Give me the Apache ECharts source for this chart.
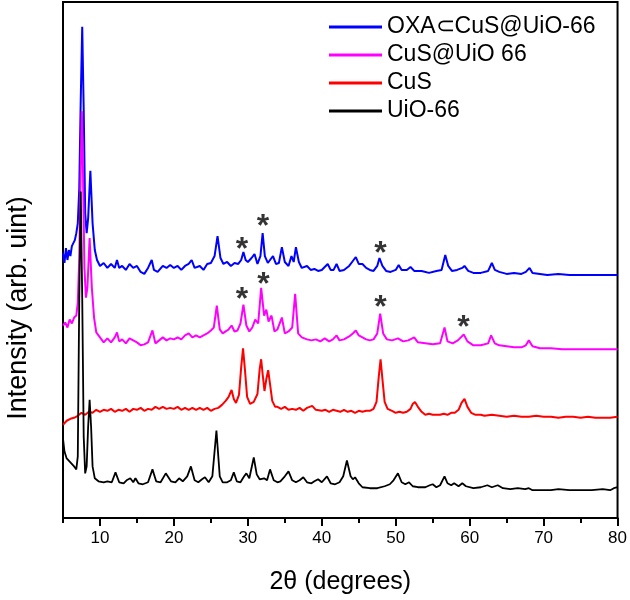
<!DOCTYPE html>
<html>
<head>
<meta charset="utf-8">
<script src="https://cdn.jsdelivr.net/npm/echarts@6/dist/echarts.min.js"></script>
<style>html,body{margin:0;padding:0;background:#fff;}#chart{width:630px;height:600px;}</style>
</head>
<body>
<div id="chart"></div>
<script>
// Series names (legend order)
const seriesNames = ['OXA\u2282CuS@UiO-66', 'CuS@UiO 66', 'CuS', 'UiO-66'];
// x tick labels
const xTickLabels = [10, 20, 30, 40, 50, 60, 70, 80];
const xTitle = '2\u03b8 (degrees)';
const yTitle = 'Intensity (arb. uint)';

// [2theta, intensity (arb., offset traces)]
const oxaCuSUiO = [
[5.0,267],[5.2,257],[5.4,272],[5.6,260],[5.8,270],[6.0,264],[6.2,274],[6.4,272],[6.6,280],[6.8,287],
[7.0,297],[7.2,332],[7.4,422],[7.6,495],[7.8,412],[8.0,307],[8.2,287],[8.4,302],[8.7,350],[9.0,297],
[9.3,270],[9.6,260],[10.0,254],[10.5,257],[11.0,252],[11.5,256],[12.0,252],[12.3,260],[12.6,252],[13.0,254],
[13.5,250],[14.0,256],[14.5,252],[15.0,254],[15.5,248],[16.0,246],[16.5,252],[17.0,260],[17.3,250],[17.8,248],
[18.5,254],[19.0,252],[19.5,255],[20.0,252],[20.5,254],[21.0,250],[21.5,254],[22.0,256],[22.4,260],[22.8,252],
[23.5,254],[24.0,250],[24.5,256],[25.0,257],[25.5,264],[25.9,284],[26.3,262],[26.7,256],[27.2,258],[27.7,254],
[28.2,257],[28.7,256],[29.1,260],[29.4,268],[29.7,260],[30.0,258],[30.5,262],[30.9,266],[31.3,256],[31.7,264],
[32.0,287],[32.3,264],[32.7,257],[33.0,260],[33.4,264],[33.8,256],[34.2,257],[34.6,273],[35.0,258],[35.5,254],
[35.9,264],[36.2,258],[36.5,273],[36.9,258],[37.3,252],[38.0,254],[38.5,250],[39.0,251],[39.5,249],[40.0,250],
[40.8,256],[41.2,250],[41.6,250],[42.0,256],[42.4,249],[43.0,250],[43.7,254],[44.2,259],[44.6,263],[45.0,256],
[45.5,256],[46.0,252],[46.5,250],[47.0,249],[47.5,254],[47.8,262],[48.2,254],[48.7,249],[49.3,248],[50.0,250],
[50.4,255],[50.8,250],[51.5,250],[52.0,253],[52.5,249],[53.5,249],[54.5,247],[55.5,249],[56.2,250],[56.7,265],
[57.1,254],[57.6,249],[58.3,250],[59.0,252],[59.3,254],[59.8,249],[60.5,247],[61.5,247],[62.5,249],[63.0,257],
[63.4,250],[64.0,248],[65.0,246],[66.0,247],[67.0,246],[67.6,248],[68.1,252],[68.5,247],[69.5,246],[70.5,245],
[72.0,246],[73.5,245],[75.0,245],[76.5,245],[78.0,245],[80.0,245]
];

const cuSUiO = [
[5.0,194],[5.3,197],[5.6,192],[5.9,200],[6.2,196],[6.5,202],[6.8,204],[7.0,217],[7.2,262],[7.4,352],
[7.55,410],[7.7,352],[7.9,252],[8.1,222],[8.3,232],[8.6,282],[8.9,232],[9.2,202],[9.5,187],[10.0,182],
[10.5,177],[11.0,181],[11.5,177],[12.0,182],[12.3,187],[12.6,178],[13.0,180],[13.5,176],[14.0,181],[14.5,179],
[15.0,177],[15.5,174],[16.0,175],[16.5,177],[17.1,189],[17.5,176],[18.0,179],[18.5,182],[19.0,179],[19.5,181],
[20.0,180],[20.5,182],[21.0,180],[21.5,184],[22.0,186],[22.5,182],[23.0,184],[23.5,182],[24.0,184],[24.5,186],
[25.0,189],[25.4,192],[25.8,214],[26.2,190],[26.6,186],[27.0,188],[27.4,190],[27.8,194],[28.2,188],[28.6,189],
[29.0,196],[29.4,215],[29.8,194],[30.2,188],[30.6,192],[31.0,200],[31.4,196],[31.8,232],[32.2,204],[32.5,210],
[32.8,198],[33.2,204],[33.6,188],[34.0,190],[34.6,202],[35.0,186],[35.5,188],[36.0,192],[36.4,226],[36.8,186],
[37.3,182],[38.0,180],[38.6,179],[39.2,180],[39.8,178],[40.4,181],[41.0,178],[41.5,180],[42.0,184],[42.4,179],
[43.0,180],[43.7,183],[44.2,186],[44.6,189],[45.0,184],[45.5,182],[46.0,180],[46.5,179],[47.0,180],[47.5,186],
[47.9,206],[48.3,186],[48.8,180],[49.5,179],[50.3,181],[51.0,178],[51.7,179],[52.5,182],[53.0,177],[54.0,176],
[55.0,175],[56.0,176],[56.6,192],[57.0,178],[57.7,176],[58.4,179],[59.2,185],[59.7,178],[60.5,174],[61.5,174],
[62.5,176],[62.9,184],[63.4,176],[64.0,174],[65.0,173],[66.0,172],[67.0,172],[67.6,174],[68.0,179],[68.5,173],
[69.5,171],[71.0,171],[72.5,170],[74.0,170],[75.5,170],[77.0,170],[78.5,170],[80.0,170]
];

const cuS = [
[5.0,94],[5.5,98],[6.0,100],[6.5,101],[7.0,103],[7.5,106],[8.0,104],[8.5,107],[9.0,106],[9.5,109],
[10.0,107],[10.5,109],[11.0,108],[11.5,110],[12.0,107],[12.5,109],[13.0,108],[13.5,110],[14.0,107],[14.5,110],
[15.0,109],[15.5,111],[16.0,108],[16.5,110],[17.0,109],[17.5,112],[18.0,110],[18.5,112],[19.0,110],[19.5,111],
[20.0,110],[20.5,112],[21.0,109],[21.5,111],[22.0,109],[22.5,111],[23.0,109],[23.5,111],[24.0,109],[24.5,111],
[25.0,108],[25.5,110],[26.0,111],[26.5,114],[27.0,118],[27.4,122],[27.8,129],[28.1,120],[28.4,116],[28.8,124],
[29.1,152],[29.35,171],[29.6,150],[29.9,122],[30.3,115],[30.8,117],[31.3,125],[31.6,150],[31.8,160],[32.0,145],
[32.25,128],[32.5,140],[32.75,149],[33.0,135],[33.3,118],[33.7,112],[34.0,112],[34.5,110],[35.0,112],[35.5,109],
[36.0,110],[36.5,109],[37.0,111],[37.5,108],[38.0,111],[38.7,113],[39.2,109],[40.0,108],[40.5,109],[41.0,107],
[41.5,109],[42.0,108],[42.5,107],[43.0,109],[43.5,107],[44.0,108],[44.5,106],[45.0,108],[45.5,107],[46.0,108],
[46.5,108],[47.0,110],[47.4,117],[47.7,142],[47.95,160],[48.2,140],[48.5,117],[48.9,110],[49.5,108],[50.0,106],
[50.5,107],[51.0,106],[51.5,107],[52.0,110],[52.3,115],[52.6,117],[53.0,112],[53.5,107],[54.0,104],[54.5,105],
[55.0,104],[55.5,104],[56.0,104],[56.5,105],[57.0,104],[57.5,106],[58.0,106],[58.5,109],[58.9,116],[59.3,120],
[59.7,112],[60.2,106],[60.8,104],[61.5,104],[62.0,103],[63.0,104],[64.0,103],[65.0,102],[66.0,103],[67.0,102],
[68.0,102],[69.0,103],[70.0,102],[71.0,102],[72.0,101],[73.0,102],[74.0,102],[75.0,101],[76.0,102],[77.0,101],
[78.0,101],[79.0,101],[80.0,102]
];

const uio66 = [
[5.0,80],[5.2,67],[5.5,60],[6.0,56],[6.5,52],[6.8,49],[7.0,62],[7.2,222],[7.4,329],[7.6,222],
[7.8,82],[8.0,45],[8.2,52],[8.4,92],[8.6,119],[8.8,92],[9.0,52],[9.3,40],[9.8,37],[10.5,36],
[11.0,37],[11.6,36],[12.1,46],[12.6,36],[13.2,35],[13.6,38],[14.1,40],[14.5,36],[14.8,40],[15.2,35],
[15.8,34],[16.5,36],[17.1,49],[17.6,37],[18.2,36],[18.9,45],[19.6,37],[20.2,36],[20.7,40],[21.2,37],
[21.8,42],[22.3,52],[22.8,38],[23.3,36],[23.8,39],[24.2,41],[24.7,36],[25.2,42],[25.75,88],[26.2,42],
[26.6,36],[27.2,36],[27.7,38],[28.1,46],[28.5,37],[29.0,36],[29.5,42],[29.8,45],[30.2,40],[30.8,61],
[31.2,44],[31.6,39],[32.2,40],[32.6,38],[33.0,49],[33.5,38],[34.0,36],[34.4,37],[35.0,42],[35.5,47],
[36.0,38],[36.5,36],[37.0,38],[37.5,41],[38.0,36],[38.6,35],[39.0,37],[39.5,39],[40.0,36],[40.7,42],
[41.2,35],[41.8,34],[42.4,36],[42.9,42],[43.4,58],[43.9,42],[44.2,39],[44.5,41],[45.0,35],[45.5,31],
[46.5,30],[47.5,30],[48.5,32],[49.2,34],[49.7,38],[50.3,45],[50.8,36],[51.3,34],[51.8,36],[52.3,32],
[53.0,31],[54.0,31],[54.6,33],[55.0,34],[55.5,31],[56.0,33],[56.6,42],[57.0,35],[57.5,33],[57.9,35],
[58.5,32],[59.0,35],[59.5,32],[60.5,30],[61.5,31],[62.4,33],[63.0,31],[63.8,33],[64.5,30],[65.5,29],
[66.5,30],[67.5,29],[68.0,30],[68.5,28],[70.0,28],[71.0,28],[72.0,29],[73.5,28],[75.0,28],[76.5,28],
[78.0,29],[79.0,28],[79.5,30],[80.0,31]
];

// CuS reflection markers (*)
const starMarks = [
[29.2,277],[32.06,300],[47.94,273],
[29.2,227],[32.1,242],[47.94,219],[59.17,198]
];

const FONT = 'Liberation Sans, Arial, Helvetica, sans-serif';
const colors = ['#0000ff', '#ff00ff', '#ff0000', '#000000'];
const seriesData = [oxaCuSUiO, cuSUiO, cuS, uio66];

const chart = echarts.init(document.getElementById('chart'), null, {renderer: 'canvas'});
const lineSeries = seriesNames.map((n, i) => ({
  name: n, type: 'line', data: seriesData[i], showSymbol: false, symbol: 'none',
  lineStyle: {color: colors[i], width: i === 3 ? 1.8 : 2}, itemStyle: {color: colors[i]},
  xAxisIndex: 0, yAxisIndex: 0, z: 2 + i, silent: true
}));
lineSeries.push({
  name: 'stars', type: 'scatter', data: starMarks, symbolSize: 0.001,
  label: {show: true, position: 'inside', formatter: '*', fontSize: 32, fontWeight: 'bold', fontFamily: FONT, color: '#000', offset: [0, 7]},
  z: 10, silent: true
});

chart.setOption({
  animation: false,
  backgroundColor: '#fff',
  grid: {left: 63, right: 10, top: 2, bottom: 78, show: true, borderColor: '#000', borderWidth: 2, backgroundColor: 'transparent'},
  legend: {
    data: seriesNames, orient: 'vertical', left: 324, top: 8, itemGap: 0,
    itemWidth: 53, itemHeight: 3, icon: 'rect',
    textStyle: {fontFamily: FONT, fontSize: 23, color: '#000', lineHeight: 28}
  },
  graphic: [{
    type: 'text', x: 19, y: 308, rotation: Math.PI / 2, silent: true,
    style: {text: yTitle, font: '27px ' + FONT, fill: '#000', align: 'center', verticalAlign: 'middle'}
  }],
  xAxis: [{
    type: 'value', min: 5, max: 80, interval: 5,
    name: xTitle, nameLocation: 'middle', nameGap: 52,
    nameTextStyle: {fontFamily: FONT, fontSize: 25, color: '#000'},
    axisLine: {show: true, lineStyle: {color: '#000', width: 2}},
    axisTick: {show: true, length: 5, lineStyle: {color: '#000', width: 2}},
    axisLabel: {fontFamily: FONT, fontSize: 17, color: '#000', margin: 12,
      formatter: v => (xTickLabels.indexOf(v) >= 0 ? String(v) : '')},
    splitLine: {show: false}
  }, {
    type: 'value', min: 5, max: 80, position: 'bottom',
    axisLine: {show: false},
    axisTick: {show: true, length: 8, customValues: xTickLabels, lineStyle: {color: '#000', width: 2}},
    axisLabel: {show: false}, splitLine: {show: false}
  }],
  yAxis: {
    type: 'value', min: 0, max: 520,
    axisLine: {show: true, lineStyle: {color: '#000', width: 2}},
    axisTick: {show: false}, axisLabel: {show: false}, splitLine: {show: false}
  },
  series: lineSeries
});
</script>
</body>
</html>
